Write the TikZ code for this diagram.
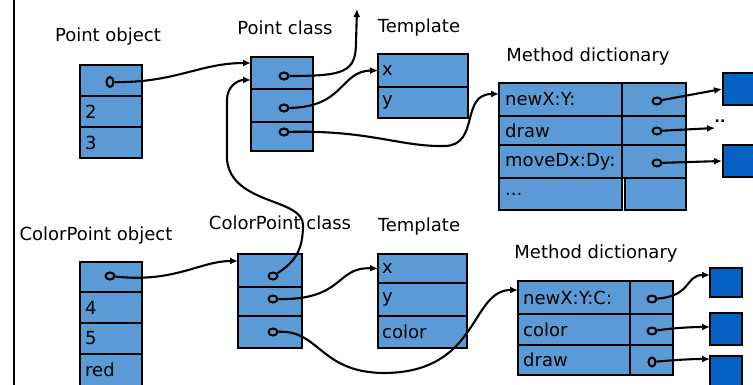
\documentclass[tikz,border=0pt]{standalone}
\usepackage{fontspec}
\setmainfont{DejaVu Sans}
\usetikzlibrary{arrows.meta,shapes.geometric}
\definecolor{cellblue}{RGB}{91,155,213}
\definecolor{codeblue}{RGB}{6,98,194}
\tikzset{
  cell/.style={draw=black, line width=2.8pt, fill=cellblue, rectangle, inner sep=0pt, outer sep=0pt},
  codebox/.style={draw=black, line width=2.8pt, fill=codeblue, rectangle, inner sep=0pt, outer sep=0pt},
  celltext/.style={anchor=west, inner sep=0pt, font=\fontsize{18}{20}\selectfont},
  caption/.style={inner sep=0pt, font=\fontsize{18}{20}\selectfont},
  ptr/.style={draw=black, line width=2pt, fill=cellblue, ellipse, inner sep=0pt, minimum width=9pt, minimum height=7pt},
  link/.style={line width=2.1pt, -{Latex[length=8pt,width=7pt]}}
}
\begin{document}
\begin{tikzpicture}[x=1pt,y=-1pt]
\useasboundingbox (0,0) rectangle (753,385);
\clip (0,0) rectangle (753,385);

% left frame line
\draw[line width=2.8pt] (14,-5) coordinate (fa) -- (14,395) coordinate (fb);

% captions
\node[caption] (lpo) at (108,37) {Point object};
\node[caption] (lpc) at (285,28) {Point class};
\node[caption] (lt1) at (419,28) {Template};
\node[caption] (lm1) at (588,57) {Method dictionary};
\node[caption] (lcpo) at (96,236) {ColorPoint object};
\node[caption] (lcpc) at (280,223) {ColorPoint class};
\node[caption] (lt2) at (419,227) {Template};
\node[caption] (lm2) at (596,254) {Method dictionary};

% Point object
\node[cell, minimum width=62pt, minimum height=31pt] (po1) at (111,80.5) {};
\node[cell, minimum width=62pt, minimum height=31pt] (po2) at (111,111.5) {};
\node[cell, minimum width=62pt, minimum height=31pt] (po3) at (111,142.5) {};
\node[celltext] at ([xshift=5pt]po2.west) {2};
\node[celltext] at ([xshift=5pt]po3.west) {3};

% Point class
\node[cell, minimum width=62pt, minimum height=32pt] (pc1) at (282,73) {};
\node[cell, minimum width=62pt, minimum height=33pt] (pc2) at (282,105.5) {};
\node[cell, minimum width=62pt, minimum height=29pt] (pc3) at (282,136.5) {};

% Template of Point
\node[cell, minimum width=90pt, minimum height=33pt] (t1a) at (423,70.5) {};
\node[cell, minimum width=90pt, minimum height=31pt] (t1b) at (423,102.5) {};
\node[celltext] at ([xshift=4pt]t1a.west) {x};
\node[celltext] at ([xshift=4pt]t1b.west) {y};

% Method dictionary of Point
\node[cell, minimum width=123pt, minimum height=33pt] (m1a) at (560.5,99.5) {};
\node[cell, minimum width=123pt, minimum height=29pt] (m1b) at (560.5,130.5) {};
\node[cell, minimum width=123pt, minimum height=33pt] (m1c) at (560.5,161.5) {};
\node[cell, minimum width=123pt, minimum height=32pt] (m1d) at (560.5,194) {};
\node[cell, minimum width=64pt, minimum height=33pt] (m1e) at (654,99.5) {};
\node[cell, minimum width=64pt, minimum height=29pt] (m1f) at (654,130.5) {};
\node[cell, minimum width=64pt, minimum height=33pt] (m1g) at (654,161.5) {};
\node[cell, minimum width=61pt, minimum height=32pt] (m1h) at (655.5,194) {};
\node[celltext] at ([xshift=6pt]m1a.west) {newX:Y:};
\node[celltext] at ([xshift=6pt]m1b.west) {draw};
\node[celltext] at ([xshift=6pt]m1c.west) {moveDx:Dy:};
\node[celltext] at ([xshift=6pt]m1d.west) {...};

% code blocks of Point
\node[codebox, minimum width=40pt, minimum height=32pt] (cb1) at (743,89) {};
\node[codebox, minimum width=40pt, minimum height=32pt] (cb2) at (743,161) {};

% ColorPoint object
\node[cell, minimum width=62pt, minimum height=30pt] (cpo1) at (111,277) {};
\node[cell, minimum width=62pt, minimum height=31pt] (cpo2) at (111,307.5) {};
\node[cell, minimum width=62pt, minimum height=31pt] (cpo3) at (111,338.5) {};
\node[cell, minimum width=62pt, minimum height=36pt] (cpo4) at (111,372) {};
\node[celltext] at ([xshift=5pt]cpo2.west) {4};
\node[celltext] at ([xshift=5pt]cpo3.west) {5};
\node[celltext] at ([xshift=5pt,yshift=2pt]cpo4.west) {red};

% ColorPoint class
\node[cell, minimum width=64pt, minimum height=33pt] (cpc1) at (270,270.5) {};
\node[cell, minimum width=64pt, minimum height=29pt] (cpc2) at (270,301.5) {};
\node[cell, minimum width=64pt, minimum height=32pt] (cpc3) at (270,332) {};

% Template of ColorPoint
\node[cell, minimum width=89pt, minimum height=29pt] (t2a) at (422.5,268.5) {};
\node[cell, minimum width=89pt, minimum height=33pt] (t2b) at (422.5,299.5) {};
\node[cell, minimum width=89pt, minimum height=32pt] (t2c) at (422.5,332) {};
\node[celltext] at ([xshift=4pt]t2a.west) {x};
\node[celltext] at ([xshift=4pt]t2b.west) {y};
\node[celltext] at ([xshift=4pt]t2c.west) {color};

% Method dictionary of ColorPoint
\node[cell, minimum width=112pt, minimum height=33pt] (m2a) at (574,297.5) {};
\node[cell, minimum width=112pt, minimum height=31pt] (m2b) at (574,329.5) {};
\node[cell, minimum width=112pt, minimum height=30pt] (m2c) at (574,360) {};
\node[cell, minimum width=43pt, minimum height=33pt] (m2d) at (651.5,297.5) {};
\node[cell, minimum width=43pt, minimum height=31pt] (m2e) at (651.5,329.5) {};
\node[cell, minimum width=43pt, minimum height=30pt] (m2f) at (651.5,360) {};
\node[celltext] at ([xshift=5pt]m2a.west) {newX:Y:C:};
\node[celltext] at ([xshift=5pt]m2b.west) {color};
\node[celltext] at ([xshift=5pt]m2c.west) {draw};

% code blocks of ColorPoint
\node[codebox, minimum width=32pt, minimum height=29pt] (cb3) at (726,282.5) {};
\node[codebox, minimum width=32pt, minimum height=32pt] (cb4) at (726,329) {};
\node[codebox, minimum width=32pt, minimum height=36pt] (cb5) at (726,374) {};

% pointer dots
\node[ptr, minimum width=7pt, minimum height=10pt] (pod) at (110,82) {};
\node[ptr] (pcd1) at (284,76) {};
\node[ptr] (pcd2) at (284,108) {};
\node[ptr] (pcd3) at (284,132) {};
\node[ptr] (m1d1) at (657,101) {};
\node[ptr] (m1d2) at (657,131) {};
\node[ptr] (m1d3) at (657,163) {};
\node[ptr] (cpod) at (110,276) {};
\node[ptr] (cpd1) at (273,276) {};
\node[ptr] (cpd2) at (273,299) {};
\node[ptr] (cpd3) at (273,332) {};
\node[ptr] (m2d1) at (652,299) {};
\node[ptr] (m2d2) at (652,331) {};
\node[ptr, minimum width=7pt, minimum height=9pt] (m2d3) at (652,362) {};

% free ends
\coordinate (superup) at (357,9);
\coordinate (drawend) at (715,128);
\node[inner sep=0pt, font=\bfseries\fontsize{14}{14}\selectfont] (more) at (720,121) {..};

% Point links
\draw[link] (pod) .. controls (175,83) and (200,63) .. ([yshift=10pt]pc1.west);
\draw[link] (pcd1) .. controls (345,76) and (356,72) .. (356,42) -- (superup);
\draw[link] (pcd2) .. controls (345,107) and (340,71) .. (t1a.west);
\draw[link] (pcd3) .. controls (370,130) and (400,147) .. (445,146)
  .. controls (480,145) and (460,94) .. ([yshift=5.5pt]m1a.west);
\draw[link] (m1d1) -- ([xshift=-1pt]cb1.west);
\draw[link] (m1d2) -- (drawend);
\draw[link] (m1d3) -- ([xshift=-1pt]cb2.west);

% ColorPoint links
\draw[link] (cpod) .. controls (175,283) and (200,261) .. ([yshift=9.5pt]cpc1.west);
\draw[link] (cpd1) .. controls (295,262) and (303,250) .. (303,225)
  .. controls (303,198) and (232,205) .. (227,160) -- (227,100)
  .. controls (227,86) and (238,80) .. ([yshift=-7pt]pc1.west);
\draw[link] (cpd2) .. controls (345,300) and (335,267) .. (t2a.west);
\draw[link] (cpd3) .. controls (320,330) and (320,373) .. (385,373)
  .. controls (480,372) and (470,290) .. ([yshift=7.5pt]m2a.west);
\draw[link] (m2d1) .. controls (692,296) and (685,275) .. ([yshift=7.5pt]cb3.west);
\draw[link] (m2d2) .. controls (675,328) and (690,327) .. ([yshift=2pt]cb4.west);
\draw[link] (m2d3) .. controls (675,360) and (690,359) .. ([yshift=-3pt]cb5.north west);
\end{tikzpicture}
\end{document}
